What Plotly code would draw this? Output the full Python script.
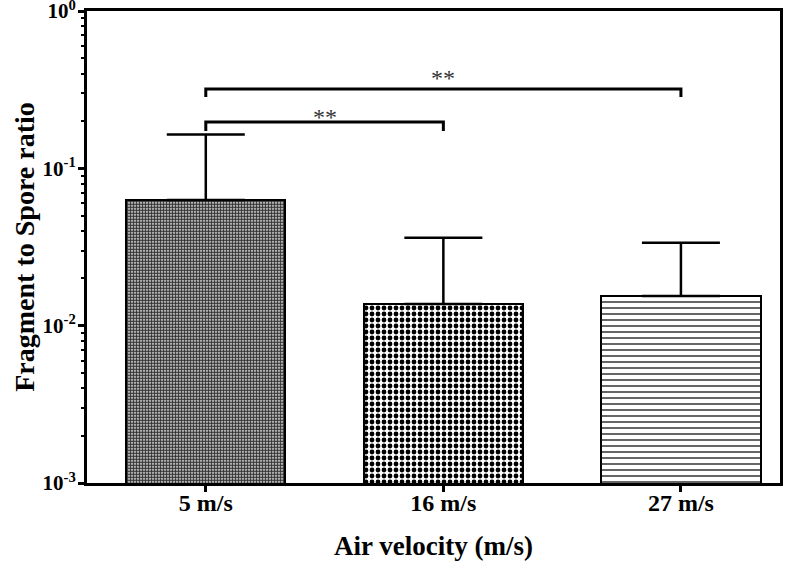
import numpy as np
import plotly.graph_objects as go

categories = ["5 m/s", "16 m/s", "27 m/s"]
means = [0.0629, 0.01372, 0.01542]
upper = [0.164, 0.0362, 0.0337]
ytick_vals = [0.001, 0.01, 0.1, 1]
ytick_text = ["10<sup>-3</sup>", "10<sup>-2</sup>", "10<sup>-1</sup>", "10<sup>0</sup>"]
brackets = [  # (from idx, to idx, top value, end value, label)
    (0, 1, 0.197, 0.1726, "**"),
    (0, 2, 0.319, 0.284, "**"),
]

xpos = list(range(len(categories)))
err_plus = [u - m for u, m in zip(upper, means)]

FONT = "Liberation Serif"
star_shift = [-10, -4]

fig = go.Figure()
fig.add_trace(go.Bar(
    x=xpos, y=means, width=0.67,
    marker=dict(
        color="white",
        line=dict(color="black", width=2),
        pattern=dict(
            shape=[".", ".", "-"],
            size=[3, 6, 6],
            solidity=[0.7, 0.5, 0.3],
            fgcolor=["#333333", "#000000", "#555555"],
            bgcolor="white",
            fillmode="replace",
        ),
    ),
    error_y=dict(type="data", symmetric=False, array=err_plus,
                 arrayminus=[0] * len(means), color="black",
                 thickness=2.5, width=39),
    showlegend=False,
))

for (a, b, top, end, lab), ys in zip(brackets, star_shift):
    fig.add_trace(go.Scatter(
        x=[a, a, b, b], y=[end, top, top, end], mode="lines",
        line=dict(color="black", width=3), showlegend=False, hoverinfo="skip",
    ))
    fig.add_annotation(x=(a + b) / 2, y=np.log10(top), text=lab,
                       showarrow=False, yanchor="bottom", yshift=ys,
                       font=dict(family=FONT, size=24, color="#333333"))

fig.update_layout(
    width=800, height=563,
    margin=dict(l=87, r=20, t=11, b=80),
    plot_bgcolor="white", paper_bgcolor="white",
    font=dict(family=FONT, color="black"),
    bargap=0,
)
fig.update_xaxes(
    range=[-0.5, 2.417], tickvals=xpos, ticktext=categories,
    tickfont=dict(family=FONT, size=24, color="black", weight="bold"),
    ticks="outside", ticklen=6, tickwidth=2.5, tickcolor="black",
    ticklabelstandoff=-10,
    showline=True, linewidth=3, linecolor="black", mirror=True,
    showgrid=False, zeroline=False, automargin=False,
    title=dict(text="<b>Air velocity (m/s)</b>", font=dict(family=FONT, size=27), standoff=22),
)
fig.update_yaxes(
    type="log", range=[-3, 0], tickvals=ytick_vals, ticktext=ytick_text,
    tickfont=dict(family=FONT, size=21, color="black", weight="bold"),
    ticks="outside", ticklen=6, tickwidth=2.5, tickcolor="black",
    ticklabeloverflow="allow", ticklabelstandoff=-2,
    minor=dict(ticks="outside", ticklen=3, tickwidth=2, tickcolor="black", dtick="D1"),
    showline=True, linewidth=3, linecolor="black", mirror=True,
    showgrid=False, zeroline=False, automargin=False,
    title=dict(text="<b>Fragment to Spore ratio</b>", font=dict(family=FONT, size=28), standoff=0),
)

fig.write_html("out.html", config={"displayModeBar": False},
               post_script="document.body.style.margin='0';")
